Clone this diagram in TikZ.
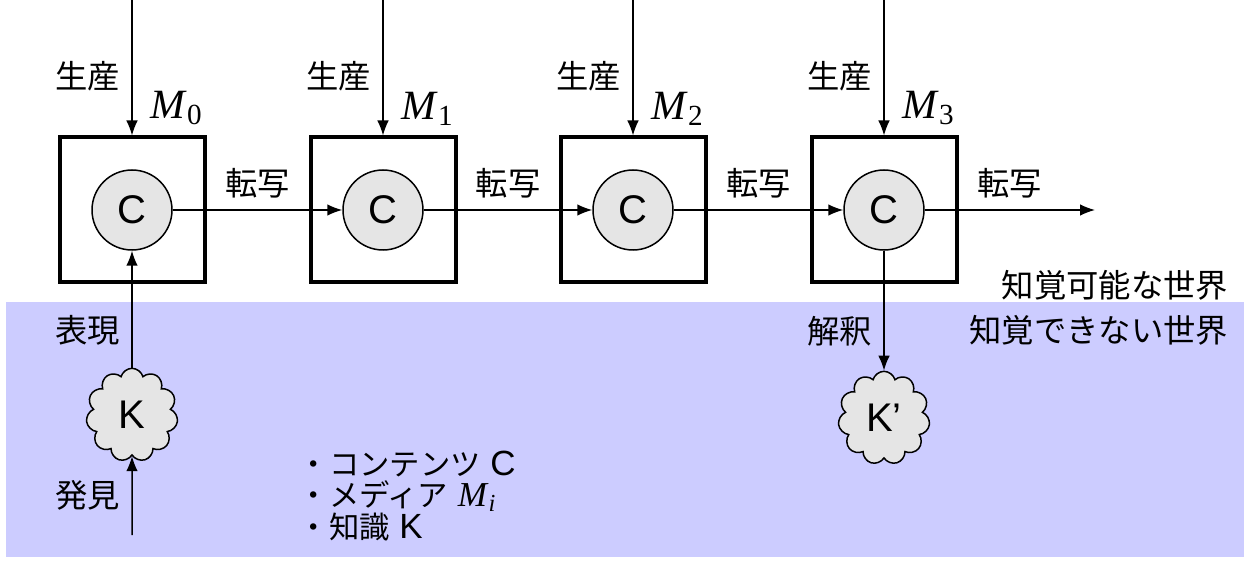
\documentclass[tikz,border=0pt]{standalone}
\usepackage{fontspec}
\setmainfont{Liberation Sans}
\newfontfamily\jp{Noto Sans CJK JP}
\newfontfamily\tmsfont{Liberation Serif}
\newcommand\jpsmall{\jp\fontsize{9.1}{11}\selectfont}
\newcommand\med[1]{{\tmsfont\textit{M}\textsubscript{#1}}}
\usetikzlibrary{arrows.meta,shapes.symbols}
\definecolor{hidden}{HTML}{CCCCFF}
\tikzset{
	medium/.style={draw, line width=1.2pt, minimum size=43.5pt, inner sep=0},
	content/.style={draw, circle, line width=0.45pt, fill=black!10, minimum size=24pt, inner sep=0, font=\fontsize{12}{14}\selectfont},
	knowledge/.style={draw, cloud, cloud puffs=11, aspect=1, line width=0.45pt, fill=black!10, minimum width=27.5pt, minimum height=28pt, inner sep=0, font=\fontsize{12}{14}\selectfont},
	flow/.style={-{Latex[length=4.5pt,width=3.5pt]}, line width=0.45pt},
	jlabel/.style={font=\jp\fontsize{9.7}{12}\selectfont},
	mlabel/.style={font=\fontsize{12.5}{14}\selectfont},
	legend/.style={anchor=west, inner sep=0, text height=7pt, text depth=1.5pt, font=\fontsize{10.5}{12}\selectfont},
}
\begin{document}
\begin{tikzpicture}[x=0.3pt, y=-0.3pt]
		\useasboundingbox (0, 0) rectangle (1244, 563);
		\fill [hidden] (6, 302) rectangle (1244, 557);
		
		\draw node[medium] at (132, 210) (m0) {};
		\draw node[medium] at (383, 210) (m1) {};
		\draw node[medium] at (633, 210) (m2) {};
		\draw node[medium] at (884, 210) (m3) {};
		\draw node[content] at (132, 210) (c0) {C};
		\draw node[content] at (383, 210) (c1) {C};
		\draw node[content] at (633, 210) (c2) {C};
		\draw node[content] at (884, 210) (c3) {C};
		
		\coordinate (in0) at (132, 0);
		\coordinate (in1) at (383, 0);
		\coordinate (in2) at (633, 0);
		\coordinate (in3) at (884, 0);
		\draw [flow] (in0) -- (m0.north) node[pos=.56, left, jlabel] {生産} node[pos=.8, right=2pt, mlabel] {\med{0}};
		\draw [flow] (in1) -- (m1.north) node[pos=.56, left, jlabel] {生産} node[pos=.8, right=2pt, mlabel] {\med{1}};
		\draw [flow] (in2) -- (m2.north) node[pos=.56, left, jlabel] {生産} node[pos=.8, right=2pt, mlabel] {\med{2}};
		\draw [flow] (in3) -- (m3.north) node[pos=.56, left, jlabel] {生産} node[pos=.8, right=2pt, mlabel] {\med{3}};
		
		\coordinate (out) at (1095, 210);
		\draw [flow] (c0) -- (c1) node[midway, above, jlabel] {転写};
		\draw [flow] (c1) -- (c2) node[midway, above, jlabel] {転写};
		\draw [flow] (c2) -- (c3) node[midway, above, jlabel] {転写};
		\draw [flow] (c3) -- (out) node[midway, above, jlabel] {転写};
		
		\draw node[knowledge] at (132, 415) (k) {K};
		\draw node[knowledge] at (884, 418) (kp) {K'};
		\coordinate (find) at (132, 535);
		\draw [flow] (find) -- (k) node[midway, left, jlabel] {発見};
		\draw [flow] (k) -- (c0) node[pos=.32, left, jlabel] {表現};
		\draw [flow] (c3) -- (kp) node[pos=.67, left, jlabel] {解釈};
		
		\draw node[jlabel, anchor=east] at (1240, 285) (seen) {知覚可能な世界};
		\draw node[jlabel, anchor=east] at (1240, 330) (unseen) {知覚できない世界};
		
		\draw node[legend] at (298, 466) (lc) {{\jpsmall ・コンテンツ} C};
		\draw node[legend] at (298, 497) (lm) {{\jpsmall ・メディア} {\tmsfont\textit{M}\textsubscript{\textit{i}}}};
		\draw node[legend] at (298, 529) (lk) {{\jpsmall ・知識} K};
	\end{tikzpicture}
\end{document}
